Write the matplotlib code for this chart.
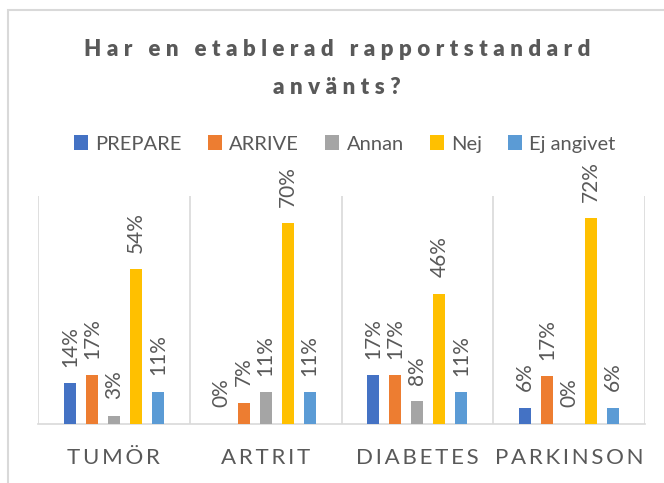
import numpy as np
import matplotlib
matplotlib.use("Agg")
import matplotlib.pyplot as plt
from matplotlib.patches import Rectangle

# data (share of answers, %)
categories = ["TUMÖR", "ARTRIT", "DIABETES", "PARKINSON"]
series_names = ["PREPARE", "ARRIVE", "Annan", "Nej", "Ej angivet"]
prepare = [14.3, 0.0, 17.1, 5.6]
arrive = [17.1, 7.4, 17.1, 16.7]
annan = [2.9, 11.1, 8.0, 0.0]
nej = [54.3, 70.4, 45.7, 72.2]
ej_angivet = [11.4, 11.1, 11.1, 5.6]

colors = ["#4472C4", "#ED7D31", "#A5A5A5", "#FFC000", "#5B9BD5"]
text_gray = "#595959"
line_gray = "#D9D9D9"
fonts = ["Lato", "DejaVu Sans"]
plt.rcParams['font.family'] = fonts


def spaced(s, sep="\u2009"):
    # fake letter spacing with thin spaces
    return sep.join(s)


fig = plt.figure(figsize=(6.64, 4.83), dpi=100)
ax = fig.add_axes([38/664, 1-424/483, 607/664, 228/483])

all_series = [prepare, arrive, annan, nej, ej_angivet]
x = np.arange(len(categories))
pitch = 0.145
width = 0.079

for i, (name, vals) in enumerate(zip(series_names, all_series)):
    xs = x + (i - 2) * pitch
    ax.bar(xs, vals, width=width, color=colors[i], label=name, zorder=3)
    for xb, v in zip(xs, vals):
        ax.annotate(f"{v:.0f}%", (xb, v), xytext=(0, 12), textcoords="offset points",
                    rotation=90, ha="center", va="bottom", fontsize=15, color=text_gray)

ax.set_xlim(-0.5, len(categories) - 0.5)
ax.set_ylim(0, 80)
ax.set_yticks([])
ax.set_xticks(x)
ax.set_xticklabels([spaced(c) for c in categories], fontsize=16, color=text_gray)
ax.tick_params(axis="x", length=0, pad=17)
ax.set_xticks(np.arange(len(categories) + 1) - 0.5, minor=True)
ax.tick_params(axis="x", which="minor", length=0)
ax.grid(which="minor", axis="x", color=line_gray, linewidth=1.2)
for side in ["left", "right", "top"]:
    ax.spines[side].set_visible(False)
ax.spines["bottom"].set_color(line_gray)
ax.spines["bottom"].set_linewidth(1.2)

# title, two lines
title_sep = "\u2009\u2009"
fig.text(337/664, 1-50/483, spaced("Har en etablerad rapportstandard", title_sep), ha="center",
         va="center", fontsize=16, fontweight="heavy", color=text_gray)
fig.text(337/664, 1-87/483, spaced("använts?", title_sep), ha="center", va="center",
         fontsize=16, fontweight="heavy", color=text_gray)

fig.legend(loc="center", bbox_to_anchor=(345/664, 1-144/483), ncol=5, frameon=False,
           fontsize=14.5, handlelength=0.7, handleheight=0.7, handletextpad=0.35,
           columnspacing=1.3, labelcolor=text_gray)

# outer chart border
fig.patches.append(Rectangle((8/664, -0.1), 1.2, 1 - 10/483 + 0.1, transform=fig.transFigure,
                             fill=False, edgecolor=line_gray, linewidth=1.5))

fig.savefig("out.png", dpi=100)
